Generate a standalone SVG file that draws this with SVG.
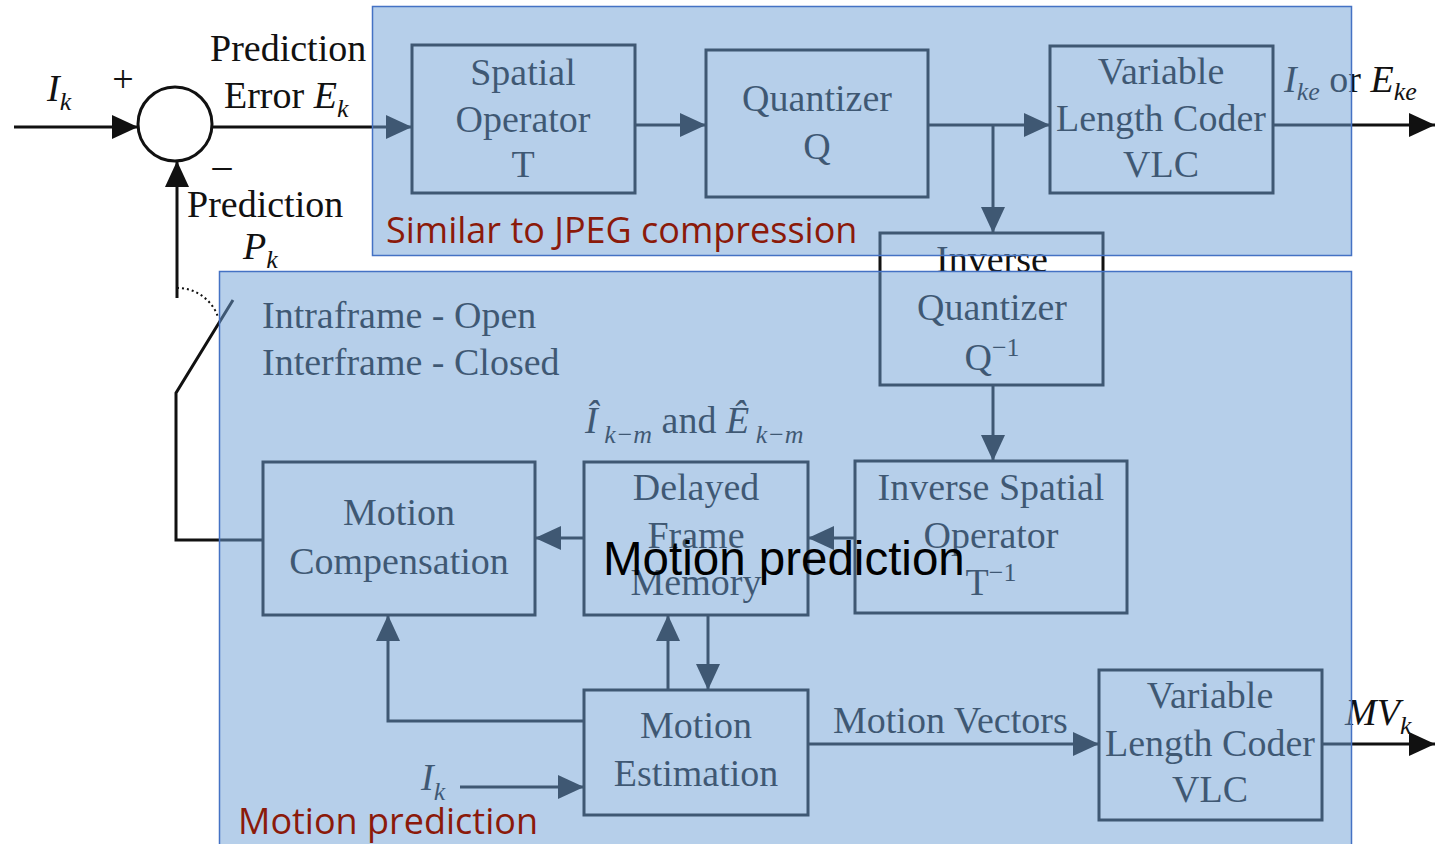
<svg xmlns="http://www.w3.org/2000/svg" width="1435" height="844" viewBox="0 0 1435 844">
<style>
.box{fill:none;stroke:#111;stroke-width:3}
.ln{fill:none;stroke:#111;stroke-width:3}
.t{font-family:"Liberation Serif",serif;font-size:38px;fill:#111}
.c{text-anchor:middle}
.i{font-style:italic}
.ov{fill:#6ea0d5;fill-opacity:0.5;stroke:#4472c4;stroke-width:1.5}
.red{font-family:"Open Sans",sans-serif;font-size:36px;fill:#8b1a0a}
</style>
<defs>
<marker id="ah" markerUnits="userSpaceOnUse" markerWidth="26" markerHeight="24" viewBox="0 0 26 24" refX="26" refY="12" orient="auto">
<path d="M0,0 L26,12 L0,24 z" fill="#111"/>
</marker>
</defs>
<rect width="1435" height="844" fill="#fff"/>
<g id="connectors">
<path class="ln" d="M14,127 H138" marker-end="url(#ah)"/>
<path class="ln" d="M212,127 H412" marker-end="url(#ah)"/>
<path class="ln" d="M635,125 H706" marker-end="url(#ah)"/>
<path class="ln" d="M928,125 H1050" marker-end="url(#ah)"/>
<path class="ln" d="M993,125 V233" marker-end="url(#ah)"/>
<path class="ln" d="M1273,125 H1435" marker-end="url(#ah)"/>
<path class="ln" d="M993,385 V461" marker-end="url(#ah)"/>
<path class="ln" d="M855,538 H808" marker-end="url(#ah)"/>
<path class="ln" d="M584,538 H535" marker-end="url(#ah)"/>
<path class="ln" d="M668,690 V615" marker-end="url(#ah)"/>
<path class="ln" d="M708,615 V690" marker-end="url(#ah)"/>
<path class="ln" d="M584,721 H388 V615" marker-end="url(#ah)"/>
<path class="ln" d="M460,787 H584" marker-end="url(#ah)"/>
<path class="ln" d="M808,744 H1099" marker-end="url(#ah)"/>
<path class="ln" d="M1322,744 H1435" marker-end="url(#ah)"/>
<path class="ln" d="M263,540 H176 V393 L233,300"/>
<path class="ln" d="M177,298 V161" marker-end="url(#ah)"/>
<path d="M177,288 A43,43 0 0 1 218,317" fill="none" stroke="#111" stroke-width="2" stroke-dasharray="2,3"/>
</g>
<g id="sum">
<circle cx="175" cy="124" r="37" fill="none" stroke="#111" stroke-width="3"/>
<text class="t c" x="123" y="92" font-size="30">+</text>
<text class="t c" x="222" y="178">–</text>
</g>
<g id="labels">
<text class="t i" x="47" y="101" font-size="35">I<tspan font-size="26" dy="9">k</tspan></text>
<text class="t" x="210" y="61">Prediction</text>
<text class="t" x="224" y="108">Error <tspan class="i">E</tspan><tspan class="i" font-size="26" dy="9">k</tspan></text>
<text class="t" x="187" y="217">Prediction</text>
<text class="t i" x="243" y="259">P<tspan font-size="26" dy="9">k</tspan></text>
<text class="t i" x="1284" y="92">I<tspan font-size="26" dy="8">ke</tspan><tspan font-style="normal" dy="-8"> or </tspan>E<tspan font-size="26" dy="8">ke</tspan></text>
<text class="t" x="262" y="328" font-size="38.5">Intraframe - Open</text>
<text class="t" x="262" y="375" font-size="38.5">Interframe - Closed</text>
<text class="t" x="585" y="433"><tspan class="i">Î</tspan><tspan class="i" font-size="26" dy="10"> k−m</tspan><tspan dy="-10"> and </tspan><tspan class="i">Ê</tspan><tspan class="i" font-size="26" dy="10"> k−m</tspan></text>
<text class="t" x="833" y="733">Motion Vectors</text>
<text class="t i" x="421" y="790">I<tspan font-size="26" dy="10">k</tspan></text>
<text class="t i" x="1345" y="725">MV<tspan font-size="26" dy="9">k</tspan></text>
</g>
<g id="spatial-operator">
<rect class="box" x="412" y="45" width="223" height="148"/>
<text class="t c" x="523" y="85">Spatial</text>
<text class="t c" x="523" y="132">Operator</text>
<text class="t c" x="523" y="177">T</text>
</g>
<g id="quantizer">
<rect class="box" x="706" y="50" width="222" height="147"/>
<text class="t c" x="817" y="111">Quantizer</text>
<text class="t c" x="817" y="159">Q</text>
</g>
<g id="vlc-top">
<rect class="box" x="1050" y="46" width="223" height="147"/>
<text class="t c" x="1161" y="84">Variable</text>
<text class="t c" x="1161" y="131">Length Coder</text>
<text class="t c" x="1161" y="177">VLC</text>
</g>
<g id="inverse-quantizer">
<rect class="box" x="880" y="233" width="223" height="152"/>
<text class="t c" x="992" y="272">Inverse</text>
<text class="t c" x="992" y="320">Quantizer</text>
<text class="t c" x="992" y="370">Q<tspan font-size="26" dy="-14">−1</tspan></text>
</g>
<g id="inverse-spatial">
<rect class="box" x="855" y="461" width="272" height="152"/>
<text class="t c" x="991" y="500">Inverse Spatial</text>
<text class="t c" x="991" y="548">Operator</text>
<text class="t c" x="991" y="595">T<tspan font-size="26" dy="-14">−1</tspan></text>
</g>
<g id="delayed-frame-memory">
<rect class="box" x="584" y="462" width="224" height="153"/>
<text class="t c" x="696" y="500">Delayed</text>
<text class="t c" x="696" y="548">Frame</text>
<text class="t c" x="696" y="595">Memory</text>
</g>
<g id="motion-compensation">
<rect class="box" x="263" y="462" width="272" height="153"/>
<text class="t c" x="399" y="525">Motion</text>
<text class="t c" x="399" y="574">Compensation</text>
</g>
<g id="motion-estimation">
<rect class="box" x="584" y="690" width="224" height="125"/>
<text class="t c" x="696" y="738">Motion</text>
<text class="t c" x="696" y="786">Estimation</text>
</g>
<g id="vlc-bottom">
<rect class="box" x="1099" y="670" width="223" height="150"/>
<text class="t c" x="1210" y="708">Variable</text>
<text class="t c" x="1210" y="756">Length Coder</text>
<text class="t c" x="1210" y="802">VLC</text>
</g>
<g id="region-jpeg">
<rect class="ov" x="372.5" y="6.5" width="979" height="249"/>
<text class="red" x="386" y="243">Similar to JPEG compression</text>
</g>
<g id="region-motion">
<rect class="ov" x="219.5" y="271.5" width="1132" height="590"/>
<text class="red" x="238" y="834">Motion prediction</text>
<text x="603" y="575" font-family="Liberation Sans, Arial, sans-serif" font-size="47.5" fill="#000">Motion prediction</text>
</g>
</svg>
